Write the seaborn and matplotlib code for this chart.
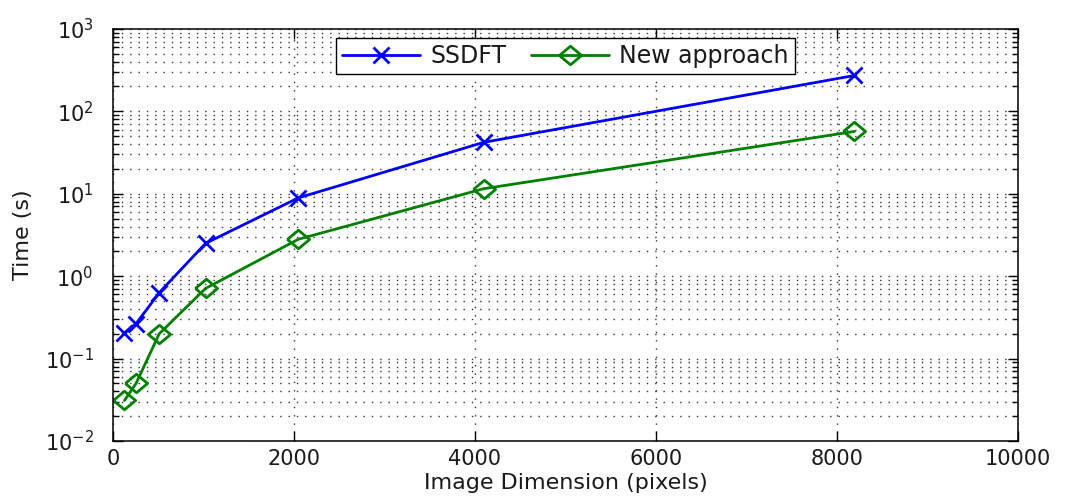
import numpy as np
import pandas as pd
import matplotlib
matplotlib.use("Agg")
import matplotlib.pyplot as plt
import matplotlib.ticker as mticker
import seaborn as sns

# Timing measurements (seconds) per image dimension
dimensions = [128, 256, 512, 1024, 2048, 4096, 8192]
ssdft_times = [0.205, 0.265, 0.63, 2.5, 8.9, 42, 272]
new_times = [0.031, 0.05, 0.2, 0.71, 2.8, 11.5, 57]
series_names = ["SSDFT", "New approach"]
x_ticks = [0, 2000, 4000, 6000, 8000, 10000]

sns.set_style("ticks")
plt.rcParams["font.family"] = ["DejaVu Sans"]
plt.rcParams["mathtext.fontset"] = "dejavusans"
text_color = "#1a1a1a"

fig = plt.figure(figsize=(10.65, 4.98), dpi=100)
ax = fig.add_axes([0.106, 0.1145, 0.850, 0.8275])

# a slightly wide open diamond
wide_diamond = [(-1.2, 0), (0, 1), (1.2, 0), (0, -1), (-1.2, 0)]
colors = [(0, 0, 1), (0, 0.5, 0)]
markers = ["x", wide_diamond]
sizes = [12, 16]

for name, times, col, mk, ms in zip(series_names, [ssdft_times, new_times], colors, markers, sizes):
    d = pd.DataFrame({"dim": dimensions, "time": times})
    sns.lineplot(data=d, x="dim", y="time", ax=ax, color=col, label=name,
                 marker=mk, markersize=ms, markeredgewidth=2,
                 markerfacecolor="none", markeredgecolor=col, linewidth=2)

ax.set_yscale("log")
ax.set_xlim(0, 10000)
ax.set_ylim(1e-2, 1e3)
ax.set_xticks(x_ticks)
ax.xaxis.set_minor_locator(mticker.NullLocator())
ax.yaxis.set_major_locator(mticker.LogLocator(base=10, numticks=10))
ax.yaxis.set_minor_locator(mticker.LogLocator(base=10, subs=np.arange(2, 10), numticks=20))
ax.yaxis.set_minor_formatter(mticker.NullFormatter())

grid_style = dict(linestyle=(0, (1, 5)), color="#333333", linewidth=1.0)
ax.grid(which="major", axis="both", **grid_style)
ax.grid(which="minor", axis="y", **grid_style)
ax.set_axisbelow(True)

ax.tick_params(which="both", direction="in", top=True, right=True, labelsize=15,
               colors="black", labelcolor=text_color)
ax.tick_params(axis="x", which="major", pad=6)
ax.tick_params(axis="y", which="major", pad=14)
ax.tick_params(which="major", length=7, width=1)
ax.tick_params(which="minor", length=4, width=1)
for sp in ax.spines.values():
    sp.set_visible(True)
    sp.set_linewidth(1.1)
    sp.set_color("black")

ax.set_xlabel("Image Dimension (pixels)", fontsize=16, color=text_color)
ax.set_ylabel("Time (s)", fontsize=16, color=text_color)
ax.xaxis.set_label_coords(0.5, -0.078)
ax.yaxis.set_label_coords(-0.088, 0.5)

leg = ax.legend(loc="upper center", bbox_to_anchor=(0.5, 0.978), ncol=2,
                fontsize=17, frameon=True, fancybox=False, edgecolor="black",
                handlelength=3.3, columnspacing=1.0, handletextpad=0.45,
                borderpad=0.25, borderaxespad=0.0, labelcolor=text_color)
leg.get_frame().set_linewidth(1.0)
leg.get_frame().set_alpha(1)

fig.savefig("out.png", dpi=100)
